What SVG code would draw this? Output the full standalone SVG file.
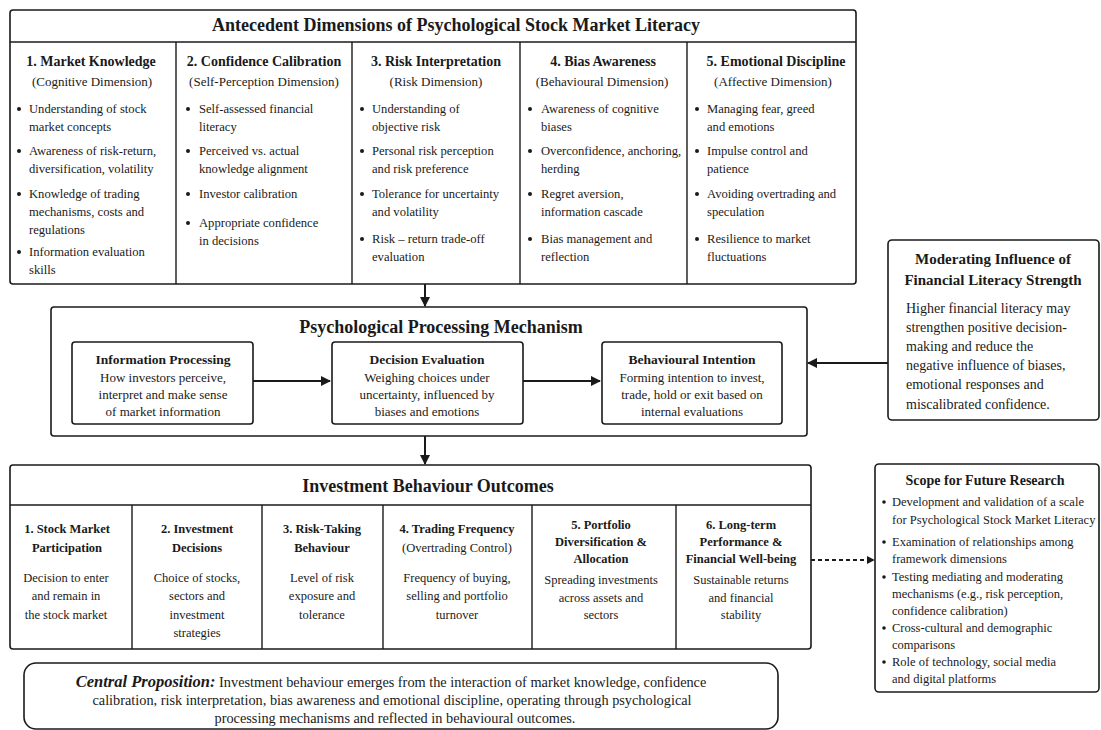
<svg xmlns="http://www.w3.org/2000/svg" width="1101" height="730" viewBox="0 0 1101 730">
<defs>
<marker id="ah" viewBox="0 0 10 10" refX="9" refY="5" markerWidth="10" markerHeight="10" markerUnits="userSpaceOnUse" orient="auto"><path d="M0,0 L10,5 L0,10 z" fill="#1a1a1a"/></marker>
<marker id="ahs" viewBox="0 0 10 10" refX="9" refY="5" markerWidth="8" markerHeight="8" markerUnits="userSpaceOnUse" orient="auto"><path d="M0,0 L10,5 L0,10 z" fill="#1a1a1a"/></marker>
</defs>
<style>
text{font-family:"Liberation Serif","Times New Roman",serif;fill:#1a1a1a}
.box{fill:#fff;stroke:#1a1a1a;stroke-width:1.6}
.ln{stroke:#1a1a1a;stroke-width:1.4;fill:none}
.t1{font-size:18px;font-weight:bold;text-anchor:middle}
.h{font-size:14px;font-weight:bold;text-anchor:middle}
.hb{font-size:13.5px;font-weight:bold;text-anchor:middle}
.ho{font-size:12.5px;font-weight:bold;text-anchor:middle}
.sub{font-size:13px;text-anchor:middle}
.b{font-size:12.6px}
.c{font-size:13px;text-anchor:middle}
.co{font-size:12.5px;text-anchor:middle}
.m{font-size:14px}
.s{font-size:12.5px}
.cp{font-size:14.3px;text-anchor:middle}
.dot{fill:#1a1a1a}
.con{stroke:#1a1a1a;stroke-width:2;fill:none}
</style>
<rect width="1101" height="730" fill="#fff"/>

<g id="antecedents">
<rect class="box" x="10" y="10" width="846" height="274" rx="3"/>
<line class="ln" x1="10" y1="42" x2="856" y2="42"/>
<line class="ln" x1="176" y1="42" x2="176" y2="284"/>
<line class="ln" x1="352" y1="42" x2="352" y2="284"/>
<line class="ln" x1="520" y1="42" x2="520" y2="284"/>
<line class="ln" x1="687" y1="42" x2="687" y2="284"/>
<text class="t1" x="456" y="31">Antecedent Dimensions of Psychological Stock Market Literacy</text>
</g>

<g id="dim1">
<text class="h" x="91" y="66">1. Market Knowledge</text>
<text class="sub" x="92" y="86">(Cognitive Dimension)</text>
<circle class="dot" cx="19" cy="109" r="2"/><text class="b" x="29" y="113">Understanding of stock</text><text class="b" x="29" y="131">market concepts</text>
<circle class="dot" cx="19" cy="151" r="2"/><text class="b" x="29" y="155">Awareness of risk-return,</text><text class="b" x="29" y="173">diversification, volatility</text>
<circle class="dot" cx="19" cy="194" r="2"/><text class="b" x="29" y="198">Knowledge of trading</text><text class="b" x="29" y="216">mechanisms, costs and</text><text class="b" x="29" y="234">regulations</text>
<circle class="dot" cx="19" cy="252" r="2"/><text class="b" x="29" y="256">Information evaluation</text><text class="b" x="29" y="274">skills</text>
</g>

<g id="dim2">
<text class="h" x="264" y="66">2. Confidence Calibration</text>
<text class="sub" x="264" y="86">(Self-Perception Dimension)</text>
<circle class="dot" cx="188" cy="109" r="2"/><text class="b" x="199" y="113">Self-assessed financial</text><text class="b" x="199" y="131">literacy</text>
<circle class="dot" cx="188" cy="151" r="2"/><text class="b" x="199" y="155">Perceived vs. actual</text><text class="b" x="199" y="173">knowledge alignment</text>
<circle class="dot" cx="188" cy="194" r="2"/><text class="b" x="199" y="198">Investor calibration</text>
<circle class="dot" cx="188" cy="223" r="2"/><text class="b" x="199" y="227">Appropriate confidence</text><text class="b" x="199" y="245">in decisions</text>
</g>

<g id="dim3">
<text class="h" x="436" y="66">3. Risk Interpretation</text>
<text class="sub" x="436" y="86">(Risk Dimension)</text>
<circle class="dot" cx="362" cy="109" r="2"/><text class="b" x="372" y="113">Understanding of</text><text class="b" x="372" y="131">objective risk</text>
<circle class="dot" cx="362" cy="151" r="2"/><text class="b" x="372" y="155">Personal risk perception</text><text class="b" x="372" y="173">and risk preference</text>
<circle class="dot" cx="362" cy="194" r="2"/><text class="b" x="372" y="198">Tolerance for uncertainty</text><text class="b" x="372" y="216">and volatility</text>
<circle class="dot" cx="362" cy="239" r="2"/><text class="b" x="372" y="243">Risk – return trade-off</text><text class="b" x="372" y="261">evaluation</text>
</g>

<g id="dim4">
<text class="h" x="603" y="66">4. Bias Awareness</text>
<text class="sub" x="602" y="86">(Behavioural Dimension)</text>
<circle class="dot" cx="530" cy="109" r="2"/><text class="b" x="541" y="113">Awareness of cognitive</text><text class="b" x="541" y="131">biases</text>
<circle class="dot" cx="530" cy="151" r="2"/><text class="b" x="541" y="155">Overconfidence, anchoring,</text><text class="b" x="541" y="173">herding</text>
<circle class="dot" cx="530" cy="194" r="2"/><text class="b" x="541" y="198">Regret aversion,</text><text class="b" x="541" y="216">information cascade</text>
<circle class="dot" cx="530" cy="239" r="2"/><text class="b" x="541" y="243">Bias management and</text><text class="b" x="541" y="261">reflection</text>
</g>

<g id="dim5">
<text class="h" x="776" y="66">5. Emotional Discipline</text>
<text class="sub" x="773" y="86">(Affective Dimension)</text>
<circle class="dot" cx="697" cy="109" r="2"/><text class="b" x="707" y="113">Managing fear, greed</text><text class="b" x="707" y="131">and emotions</text>
<circle class="dot" cx="697" cy="151" r="2"/><text class="b" x="707" y="155">Impulse control and</text><text class="b" x="707" y="173">patience</text>
<circle class="dot" cx="697" cy="194" r="2"/><text class="b" x="707" y="198">Avoiding overtrading and</text><text class="b" x="707" y="216">speculation</text>
<circle class="dot" cx="697" cy="239" r="2"/><text class="b" x="707" y="243">Resilience to market</text><text class="b" x="707" y="261">fluctuations</text>
</g>

<g id="processing">
<rect class="box" x="51" y="307" width="756" height="129" rx="3"/>
<text class="t1" x="441" y="333">Psychological Processing Mechanism</text>
</g>
<g id="info-processing">
<rect class="box" x="72" y="342" width="181" height="82" rx="3"/>
<text class="hb" x="163" y="364">Information Processing</text>
<text class="c" x="163" y="382">How investors perceive,</text>
<text class="c" x="163" y="399">interpret and make sense</text>
<text class="c" x="163" y="416">of market information</text>
</g>
<g id="decision-evaluation">
<rect class="box" x="332" y="342" width="191" height="82" rx="3"/>
<text class="hb" x="427" y="364">Decision Evaluation</text>
<text class="c" x="427" y="382">Weighing choices under</text>
<text class="c" x="427" y="399">uncertainty, influenced by</text>
<text class="c" x="427" y="416">biases and emotions</text>
</g>
<g id="behavioural-intention">
<rect class="box" x="602" y="342" width="180" height="82" rx="3"/>
<text class="hb" x="692" y="364">Behavioural Intention</text>
<text class="c" x="692" y="382">Forming intention to invest,</text>
<text class="c" x="692" y="399">trade, hold or exit based on</text>
<text class="c" x="692" y="416">internal evaluations</text>
</g>

<g id="moderating">
<rect class="box" x="888" y="240" width="211" height="180" rx="4"/>
<text class="h" x="993" y="264" style="font-size:15px">Moderating Influence of</text>
<text class="h" x="993" y="285" style="font-size:15px">Financial Literacy Strength</text>
<text class="m" x="906" y="313">Higher financial literacy may</text>
<text class="m" x="906" y="332">strengthen positive decision-</text>
<text class="m" x="906" y="351">making and reduce the</text>
<text class="m" x="906" y="370">negative influence of biases,</text>
<text class="m" x="906" y="389">emotional responses and</text>
<text class="m" x="906" y="409">miscalibrated confidence.</text>
</g>

<g id="outcomes">
<rect class="box" x="10" y="465" width="801" height="184" rx="3"/>
<line class="ln" x1="10" y1="505" x2="811" y2="505"/>
<line class="ln" x1="132" y1="505" x2="132" y2="649"/>
<line class="ln" x1="262" y1="505" x2="262" y2="649"/>
<line class="ln" x1="383" y1="505" x2="383" y2="649"/>
<line class="ln" x1="532" y1="505" x2="532" y2="649"/>
<line class="ln" x1="676" y1="505" x2="676" y2="649"/>
<text class="t1" x="428" y="492">Investment Behaviour Outcomes</text>
</g>
<g id="out1">
<text class="ho" x="67" y="533">1. Stock Market</text>
<text class="ho" x="67" y="552">Participation</text>
<text class="co" x="66" y="582">Decision to enter</text>
<text class="co" x="66" y="600">and remain in</text>
<text class="co" x="66" y="619">the stock market</text>
</g>
<g id="out2">
<text class="ho" x="197" y="533">2. Investment</text>
<text class="ho" x="197" y="552">Decisions</text>
<text class="co" x="197" y="582">Choice of stocks,</text>
<text class="co" x="197" y="600">sectors and</text>
<text class="co" x="197" y="619">investment</text>
<text class="co" x="197" y="637">strategies</text>
</g>
<g id="out3">
<text class="ho" x="322" y="533">3. Risk-Taking</text>
<text class="ho" x="322" y="552">Behaviour</text>
<text class="co" x="322" y="582">Level of risk</text>
<text class="co" x="322" y="600">exposure and</text>
<text class="co" x="322" y="619">tolerance</text>
</g>
<g id="out4">
<text class="ho" x="457" y="533">4. Trading Frequency</text>
<text class="co" x="457" y="552">(Overtrading Control)</text>
<text class="co" x="457" y="582">Frequency of buying,</text>
<text class="co" x="457" y="600">selling and portfolio</text>
<text class="co" x="457" y="619">turnover</text>
</g>
<g id="out5">
<text class="ho" x="601" y="529">5. Portfolio</text>
<text class="ho" x="601" y="546">Diversification &amp;</text>
<text class="ho" x="601" y="563">Allocation</text>
<text class="co" x="601" y="584">Spreading investments</text>
<text class="co" x="601" y="602">across assets and</text>
<text class="co" x="601" y="619">sectors</text>
</g>
<g id="out6">
<text class="ho" x="741" y="529">6. Long-term</text>
<text class="ho" x="741" y="546">Performance &amp;</text>
<text class="ho" x="741" y="563">Financial Well-being</text>
<text class="co" x="741" y="584">Sustainable returns</text>
<text class="co" x="741" y="602">and financial</text>
<text class="co" x="741" y="619">stability</text>
</g>

<g id="future-research">
<rect class="box" x="875" y="464" width="224" height="228" rx="4"/>
<text class="h" x="985" y="485">Scope for Future Research</text>
<circle class="dot" cx="884" cy="502" r="1.8"/><text class="s" x="892" y="506">Development and validation of a scale</text><text class="s" x="892" y="524">for Psychological Stock Market Literacy</text>
<circle class="dot" cx="884" cy="542" r="1.8"/><text class="s" x="892" y="546">Examination of relationships among</text><text class="s" x="892" y="563">framework dimensions</text>
<circle class="dot" cx="884" cy="577" r="1.8"/><text class="s" x="892" y="581">Testing mediating and moderating</text><text class="s" x="892" y="598">mechanisms (e.g., risk perception,</text><text class="s" x="892" y="615">confidence calibration)</text>
<circle class="dot" cx="884" cy="628" r="1.8"/><text class="s" x="892" y="632">Cross-cultural and demographic</text><text class="s" x="892" y="649">comparisons</text>
<circle class="dot" cx="884" cy="662" r="1.8"/><text class="s" x="892" y="666">Role of technology, social media</text><text class="s" x="892" y="683">and digital platforms</text>
</g>

<g id="central-proposition">
<rect class="box" x="24" y="663" width="754" height="66" rx="12"/>
<text class="cp" x="391" y="687"><tspan font-weight="bold" font-style="italic" font-size="16.5px">Central Proposition:</tspan> Investment behaviour emerges from the interaction of market knowledge, confidence</text>
<text class="cp" x="392" y="705">calibration, risk interpretation, bias awareness and emotional discipline, operating through psychological</text>
<text class="cp" x="395" y="723">processing mechanisms and reflected in behavioural outcomes.</text>
</g>

<g id="connectors">
<line class="con" x1="425" y1="284" x2="425" y2="306" marker-end="url(#ah)"/>
<line class="con" x1="425" y1="436" x2="425" y2="464" marker-end="url(#ah)"/>
<line class="con" x1="253" y1="381" x2="330" y2="381" marker-end="url(#ah)"/>
<line class="con" x1="523" y1="381" x2="600" y2="381" marker-end="url(#ah)"/>
<line class="con" x1="888" y1="363" x2="808" y2="363" marker-end="url(#ah)"/>
<line class="con" x1="811" y1="560" x2="874" y2="560" stroke-dasharray="4,3" stroke-width="1.6" marker-end="url(#ahs)"/>
</g>
</svg>
